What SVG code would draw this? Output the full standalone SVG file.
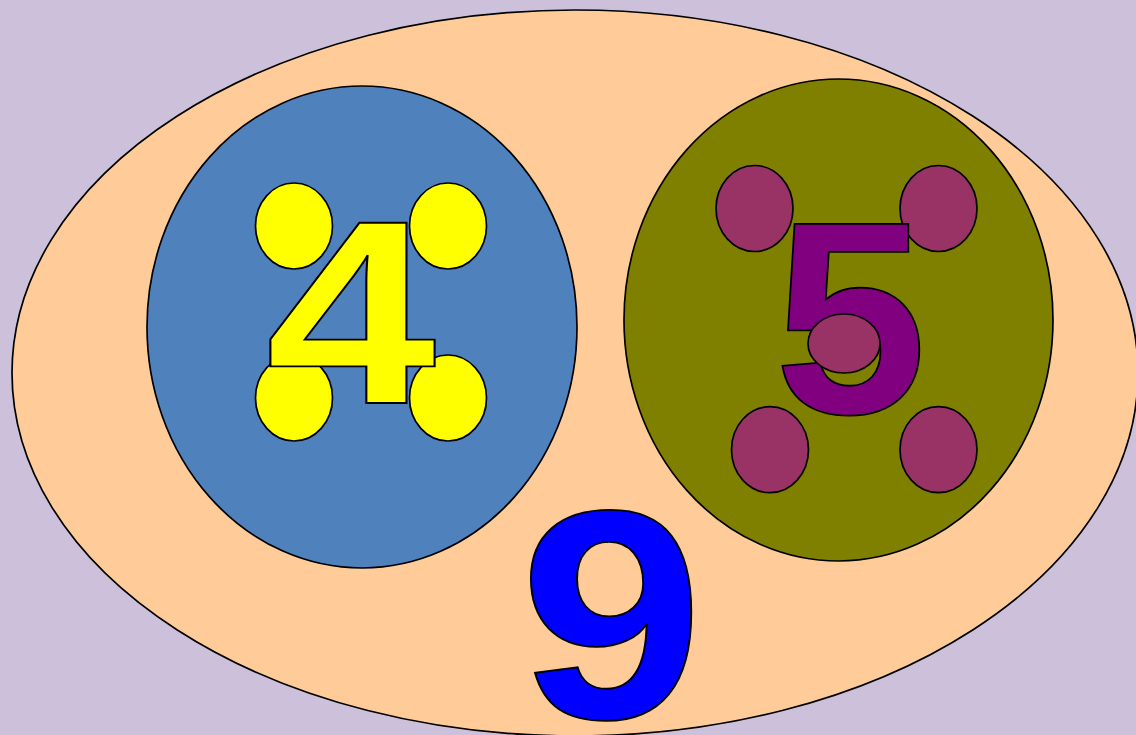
<svg xmlns="http://www.w3.org/2000/svg" width="1136" height="735" viewBox="0 0 1136 735">
<style>
.o{stroke:#000;stroke-width:1.7}
.y{fill:#FFFF00}
.m{fill:#993366}
</style>
<rect width="1136" height="735" fill="#CCC0DA"/>
<g id="nine-set">
<ellipse class="o" cx="575" cy="373" rx="563" ry="363" fill="#FFCC99"/>
</g>
<g id="four-set">
<ellipse class="o" cx="362" cy="327" rx="215" ry="241" fill="#4F81BD"/>
<ellipse class="o y" cx="294" cy="226" rx="38.5" ry="43"/>
<ellipse class="o y" cx="448" cy="226" rx="38.5" ry="43"/>
<ellipse class="o y" cx="294" cy="398" rx="38.5" ry="43"/>
<ellipse class="o y" cx="448" cy="398" rx="38.5" ry="43"/>
<text font-family="Liberation Sans, Arial, sans-serif" font-weight="700" text-anchor="middle" stroke="#000" stroke-width="1.8" transform="translate(351 403) scale(1.17 1)" font-size="262" fill="#FFFF00">4</text>
</g>
<g id="five-set">
<ellipse class="o" cx="838.5" cy="320" rx="214.5" ry="241" fill="#808000"/>
<ellipse class="o m" cx="754.5" cy="208.5" rx="38.5" ry="43"/>
<ellipse class="o m" cx="938.5" cy="208.5" rx="38.5" ry="43"/>
<ellipse class="o m" cx="770" cy="449.7" rx="38.5" ry="43"/>
<ellipse class="o m" cx="938.5" cy="449.7" rx="38.5" ry="43"/>
<text font-family="Liberation Sans, Arial, sans-serif" font-weight="700" text-anchor="middle" stroke="#000" stroke-width="1.8" x="850.5" y="413" font-size="275" fill="#800080">5</text>
<ellipse class="o m" cx="844" cy="343.5" rx="36" ry="29.5"/>
</g>
<g id="nine-label">
<text font-family="Liberation Sans, Arial, sans-serif" font-weight="700" text-anchor="middle" stroke="#000" stroke-width="1.8" transform="translate(611.5 718) scale(1.11 1)" font-size="298" fill="#0000FF">9</text>
</g>
<g id="connectors"/>
</svg>
